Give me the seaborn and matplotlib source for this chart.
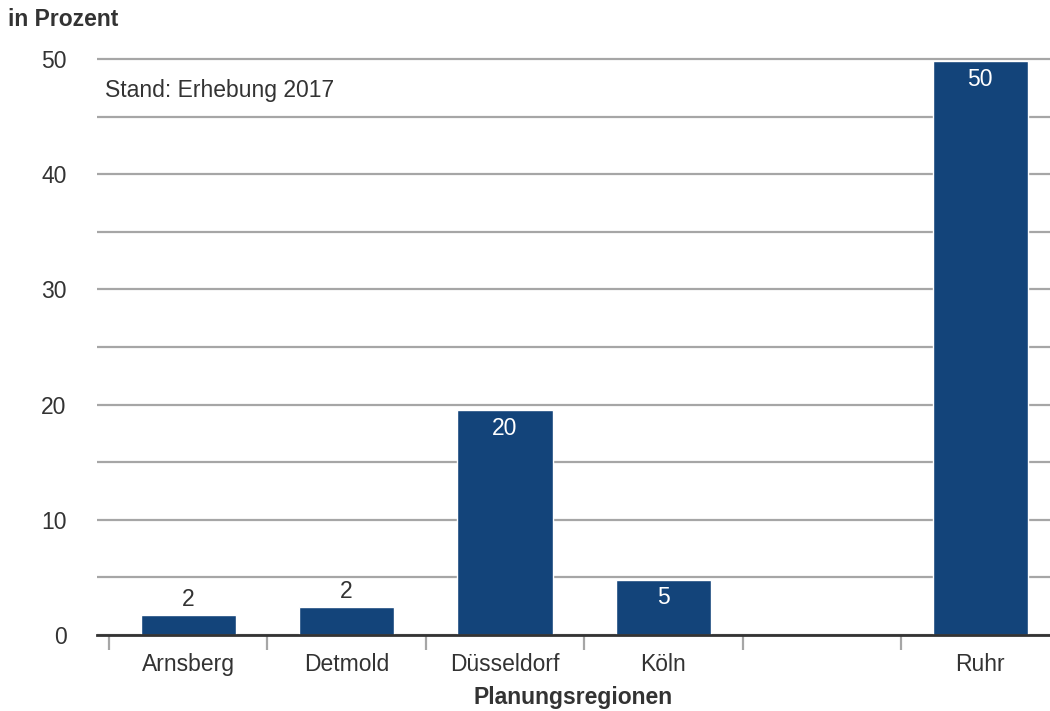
import pandas as pd
import numpy as np
import matplotlib.pyplot as plt
import seaborn as sns

regionen = ["Arnsberg", "Detmold", "Düsseldorf", "Köln", "", "Ruhr"]
anteil = [1.7, 2.4, 19.5, 4.8, np.nan, 49.8]
beschriftung = ["2", "2", "20", "5", "", "50"]

df = pd.DataFrame({"Region": regionen, "Anteil": anteil})

sns.set_style("white")
plt.rcParams['font.family'] = ['Liberation Sans', 'DejaVu Sans']

farbe = "#13447a"
grau = "#a6a6a6"
text_farbe = "#333333"
fs = 16.5

fig = plt.figure(figsize=(10.5, 7.11), dpi=100)
# y von 0 bis 50.2, damit die oberste Gitterlinie sichtbar bleibt
ax = fig.add_axes([97 / 1050, 1 - 635 / 711, 953 / 1050, 578.3 / 711])

sns.barplot(data=df, x="Region", y="Anteil", order=regionen, color=farbe,
            width=0.6, saturation=1, ax=ax, zorder=3)

ax.set_ylim(0, 50.2)
ax.set_xlim(-0.575, 5.44)
ax.set_yticks(range(0, 51, 10))
ax.set_yticks(range(5, 51, 10), minor=True)
ax.yaxis.grid(True, which="both", color=grau, linewidth=1.6, zorder=0)

for s in ["left", "right", "top"]:
    ax.spines[s].set_visible(False)
ax.spines["bottom"].set_color(text_farbe)
ax.spines["bottom"].set_linewidth(2)
ax.spines["bottom"].set_zorder(4)

ax.tick_params(axis="y", which="both", left=False, length=0, pad=22, labelsize=fs, labelcolor=text_farbe)
ax.tick_params(axis="x", which="major", bottom=False, length=0, pad=13, labelsize=fs, labelcolor=text_farbe)

# Trennstriche zwischen den Kategorien
ax.set_xticks(np.arange(-0.5, len(regionen) - 1, 1.0), minor=True)
ax.tick_params(axis="x", which="minor", bottom=True, length=11, width=1.6, color=grau, direction="out")

ax.set_xlabel("Planungsregionen", fontsize=fs, fontweight="bold", color=text_farbe, labelpad=7)
ax.set_ylabel("")

for i, (w, t) in enumerate(zip(anteil, beschriftung)):
    if np.isnan(w):
        continue
    if w < 4:
        ax.text(i, w + 0.4, t, ha="center", va="bottom", fontsize=fs, color=text_farbe, zorder=5)
    else:
        ax.text(i, w - 0.55, t, ha="center", va="top", fontsize=fs, color="white", zorder=5)

ax.text(0.008, 0.962, "Stand: Erhebung 2017", transform=ax.transAxes, ha="left", va="top",
        fontsize=fs, color=text_farbe)
fig.text(8 / 1050, 1 - 20 / 711, "in Prozent", ha="left", va="center", fontsize=fs,
         fontweight="bold", color=text_farbe)

fig.savefig("out.png", dpi=100, facecolor="white")
